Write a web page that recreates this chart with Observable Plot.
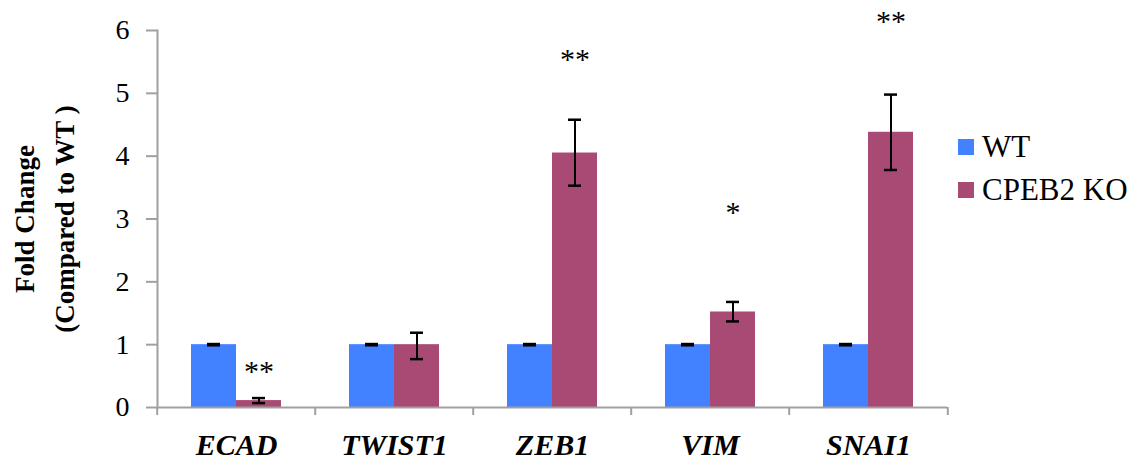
<!DOCTYPE html>
<html>
<head>
<meta charset="utf-8">
<script src="https://cdn.jsdelivr.net/npm/d3@7"></script>
<script src="https://cdn.jsdelivr.net/npm/@observablehq/plot@0.6"></script>
<style>
  html, body { margin: 0; padding: 0; background: #fff; }
  #wrap { position: relative; width: 1140px; height: 463px; font-family: "Liberation Serif", "Times New Roman", serif; }
  #wrap svg { display: block; }
  #legend { position: absolute; left: 958px; top: 125px; }
  .lrow { display: flex; align-items: center; height: 43px; font-size: 31px; color: #000; }
  .lsw { width: 16px; height: 16px; margin-right: 8px; }
</style>
</head>
<body>
<div id="wrap"></div>
<script>
// ---- data ----
const genes = ["ECAD", "TWIST1", "ZEB1", "VIM", "SNAI1"];
const groups = ["WT", "CPEB2 KO"];
const groupColors = ["#4281FF", "#A94A74"];
const wtValues = [1, 1, 1, 1, 1];
const wtLow = [0.99, 0.99, 0.99, 0.99, 0.99];
const wtHigh = [1.01, 1.01, 1.01, 1.01, 1.01];
const koValues = [0.11, 1.0, 4.05, 1.52, 4.38];
const koLow = [0.07, 0.77, 3.53, 1.37, 3.78];
const koHigh = [0.15, 1.19, 4.58, 1.68, 4.98];
const sigLabels = ["**", "", "**", "*", "**"];
const sigLevel = [0.64, null, 5.6, 3.17, 6.21];
const yTicks = [0, 1, 2, 3, 4, 5, 6];
const yLabel = "Fold Change\n(Compared to WT )";

// ---- table built from the arrays ----
const rows = [];
genes.forEach((g, i) => {
  rows.push({gene: g, group: groups[0], value: wtValues[i], lo: wtLow[i], hi: wtHigh[i], sig: "", sigY: null});
  rows.push({gene: g, group: groups[1], value: koValues[i], lo: koLow[i], hi: koHigh[i], sig: sigLabels[i], sigY: sigLevel[i]});
});

const W = 1140, H = 463, ML = 155, MR = 192, MT = 30, MB = 56;
const half = (W - ML - MR) / genes.length / 2;
const axisGray = "#A0A0A0";

const chart = Plot.plot({
  width: W, height: H,
  marginLeft: ML, marginRight: MR, marginTop: MT, marginBottom: MB,
  style: {fontFamily: "'Liberation Serif', 'Times New Roman', serif", background: "white", color: "black", overflow: "visible"},
  fx: {domain: genes, padding: 0, axis: null, label: null},
  x: {domain: groups, paddingInner: 0, paddingOuter: 0.74, axis: null},
  y: {domain: [0, 6], axis: null},
  color: {domain: groups, range: groupColors},
  marks: [
    Plot.barY(rows, {fx: "gene", x: "group", y: "value", fill: "group"}),
    Plot.ruleY([0], {stroke: axisGray, strokeWidth: 2}),
    Plot.frame({anchor: "left", facetAnchor: "left", stroke: axisGray, strokeWidth: 2}),
    Plot.axisY({ticks: yTicks, tickFormat: d => String(d), tickSize: 11, tickPadding: 17, fontSize: 28, stroke: axisGray, strokeWidth: 2, label: null}),
    Plot.axisFx({anchor: "bottom", tickSize: 8, stroke: axisGray, strokeWidth: 2, dx: -half, tickFormat: () => "", label: null}),
    Plot.axisFx({anchor: "bottom", ticks: [genes[genes.length - 1]], tickSize: 8, stroke: axisGray, strokeWidth: 2, dx: half, tickFormat: () => "", label: null}),
    Plot.axisFx({anchor: "bottom", tickSize: 0, tickPadding: 26, fontSize: 30, fontWeight: "bold", fontStyle: "italic", label: null}),
    Plot.ruleX(rows, {fx: "gene", x: "group", y1: "lo", y2: "hi", stroke: "black", strokeWidth: 2}),
    Plot.tickY(rows, {fx: "gene", x: "group", y: "lo", insetLeft: 16, insetRight: 16, stroke: "black", strokeWidth: 2.5}),
    Plot.tickY(rows, {fx: "gene", x: "group", y: "hi", insetLeft: 16, insetRight: 16, stroke: "black", strokeWidth: 2.5}),
    Plot.text(rows.filter(d => d.sig), {fx: "gene", x: "group", y: "sigY", text: "sig", fontSize: 30, fill: "black", dy: 4}),
    Plot.text([yLabel], {text: d => d, frameAnchor: "left", textAnchor: "middle", rotate: -90, dx: -116, fontSize: 27, fontWeight: "bold", lineHeight: 1.45, facetAnchor: "left", fill: "black"})
  ]
});

const wrap = document.getElementById("wrap");
wrap.appendChild(chart);

const legend = document.createElement("div");
legend.id = "legend";
groups.forEach((g, i) => {
  const r = document.createElement("div");
  r.className = "lrow";
  const sw = document.createElement("span");
  sw.className = "lsw";
  sw.style.background = groupColors[i];
  const t = document.createElement("span");
  t.textContent = g;
  r.appendChild(sw); r.appendChild(t);
  legend.appendChild(r);
});
wrap.appendChild(legend);
</script>
</body>
</html>
